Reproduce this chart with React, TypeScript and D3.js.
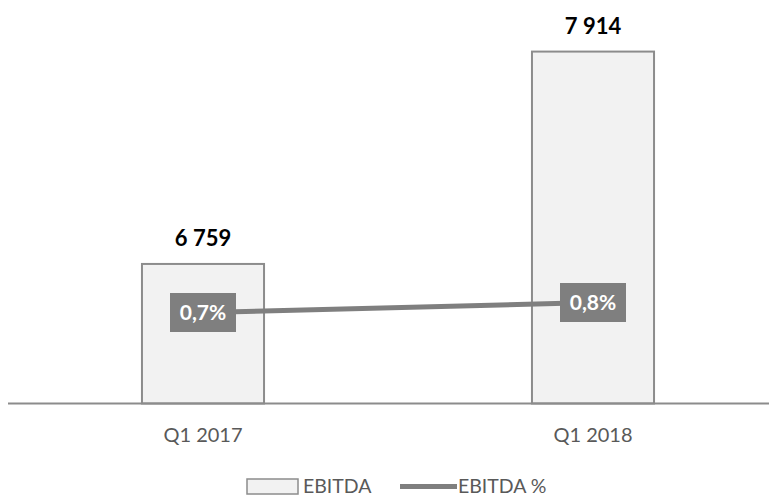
import * as d3 from 'd3';
import React from 'react';

// chart data
const categories = ['Q1 2017', 'Q1 2018'];
const ebitda = [6759, 7914];
const ebitdaPct = [0.7, 0.8];
const pctLabels = ['0,7%', '0,8%'];
const valueLabels = ['6 759', '7 914'];
const legendLabels = ['EBITDA', 'EBITDA %'];

const width = 777;
const height = 497;
const font = 'Lato, "Open Sans", sans-serif';

export default function App() {
  // scales
  const x = d3.scaleBand<string>()
    .domain(categories)
    .range([8, 788])
    .paddingInner(0.687)
    .paddingOuter(0.3435);

  const y = d3.scaleLinear()
    .domain([6000, 8200])
    .range([403.5, -1]);

  // secondary axis for the percentage line
  const y2 = d3.scaleLinear()
    .domain([0, 1])
    .range([382.5, 282.5]);

  const cx = (c: string) => (x(c) ?? 0) + x.bandwidth() / 2;

  const pts: [number, number][] = categories.map((c, i) => [cx(c), y2(ebitdaPct[i])]);
  const line = d3.line();

  return (
    <svg width={width} height={height} style={{ position: 'absolute', left: 0, top: 0 }}>
      <rect width={width} height={height} fill="#ffffff" />

      {/* bars */}
      {categories.map((c, i) => (
        <rect key={c}
          x={x(c)} y={y(ebitda[i])}
          width={x.bandwidth()} height={y(6000) - y(ebitda[i])}
          fill="#f2f2f2" stroke="#8c8c8c" strokeWidth={2} />
      ))}

      {/* baseline */}
      <line x1={8} x2={769} y1={y(6000)} y2={y(6000)} stroke="#8c8c8c" strokeWidth={2} />

      {/* value labels */}
      {categories.map((c, i) => (
        <text key={c} x={cx(c)} y={y(ebitda[i]) - 18} textAnchor="middle"
          fontFamily={font} fontWeight="bold" fontSize={22} fill="#000">
          {valueLabels[i]}
        </text>
      ))}

      {/* percentage line */}
      <path d={line(pts) ?? ''} fill="none" stroke="#7f7f7f" strokeWidth={5} />

      {pts.map((p, i) => (
        <g key={i}>
          <rect x={p[0] - 33} y={p[1] - 19.5} width={66} height={39} fill="#7f7f7f" />
          <text x={p[0]} y={p[1] + 7.5} textAnchor="middle"
            fontFamily={font} fontWeight="bold" fontSize={21} fill="#fff">
            {pctLabels[i]}
          </text>
        </g>
      ))}

      {/* category labels */}
      {categories.map(c => (
        <text key={c} x={cx(c)} y={442} textAnchor="middle"
          fontFamily={font} fontSize={20} fill="#595959">
          {c}
        </text>
      ))}

      {/* legend */}
      <rect x={247} y={479} width={51} height={15} fill="#f2f2f2" stroke="#8c8c8c" strokeWidth={1.5} />
      <text x={303} y={493} fontFamily={font} fontSize={19.5} fill="#595959">{legendLabels[0]}</text>
      <line x1={400} x2={457} y1={486.5} y2={486.5} stroke="#7f7f7f" strokeWidth={5} />
      <text x={458} y={493} fontFamily={font} fontSize={19.5} fill="#595959">{legendLabels[1]}</text>
    </svg>
  );
}
